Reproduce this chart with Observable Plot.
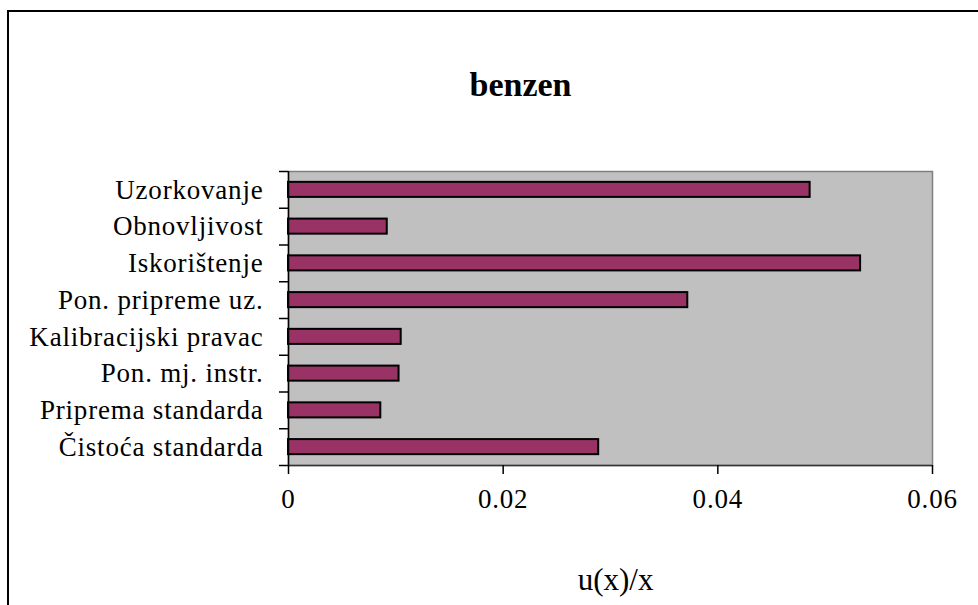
<!DOCTYPE html>
<html>
<head>
<meta charset="utf-8">
<script src="https://cdn.jsdelivr.net/npm/d3@7"></script>
<script src="https://cdn.jsdelivr.net/npm/@observablehq/plot@0.6"></script>
<style>
  html, body { margin: 0; padding: 0; background: #fff; overflow: hidden; }
  #wrap { position: relative; width: 978px; height: 605px; }
  #border { position: absolute; left: 7px; top: 10px; width: 1200px; height: 1000px;
            border-left: 2px solid #000; border-top: 2px solid #000; pointer-events: none; }
  svg, svg text { font-family: 'Liberation Serif', 'Times New Roman', serif !important; }
  svg g.ylab text, svg g.xlab text { letter-spacing: 0.8px; }
</style>
</head>
<body>
<div id="wrap"><div id="border"></div></div>
<script>
const categories = ["Uzorkovanje", "Obnovljivost", "Iskorištenje", "Pon. pripreme uz.",
  "Kalibracijski pravac", "Pon. mj. instr.", "Priprema standarda", "Čistoća standarda"];
const values = [0.0486, 0.0092, 0.0533, 0.0372, 0.0105, 0.0103, 0.0086, 0.0289];
const xTicks = [0, 0.02, 0.04, 0.06];
const xTickLabels = ["0", "0.02", "0.04", "0.06"];
const title = "benzen";
const xLabel = "u(x)/x";

const data = categories.map((c, i) => ({ category: c, value: values[i], i }));
const centers = categories.map((c, i) => i + 0.5);
const bounds = d3.range(categories.length + 1);
const serif = "'Liberation Serif', 'Times New Roman', serif";

const chart = Plot.plot({
  width: 978,
  height: 605,
  marginLeft: 288,
  marginRight: 46,
  marginTop: 171,
  marginBottom: 140,
  style: { fontFamily: serif, background: "transparent", color: "#000" },
  x: { domain: [0, 0.06] },
  y: { domain: [0, categories.length], reverse: true },
  marks: [
    Plot.frame({ fill: "#c0c0c0", stroke: "#808080", strokeWidth: 1.5 }),
    Plot.rectX(data, {
      x1: 0, x2: "value",
      y1: d => d.i + 0.295, y2: d => d.i + 0.705,
      fill: "#993366", stroke: "#000", strokeWidth: 2
    }),
    Plot.ruleX([0], { stroke: "#000", strokeWidth: 1.5 }),
    Plot.ruleY([categories.length], { stroke: "#333", strokeWidth: 1.5 }),
    Plot.axisY(bounds, { tickSize: 9, tickFormat: () => "", label: null, strokeWidth: 1.5 }),
    Plot.axisY(centers, {
      tickSize: 0, tickPadding: 25, label: null, fontSize: 27, fontFamily: serif,
      className: "ylab",
      tickFormat: d => categories[Math.floor(d)]
    }),
    Plot.axisX(xTicks, {
      tickSize: 9, tickPadding: 14, label: null, fontSize: 27, strokeWidth: 1.5,
      fontFamily: serif, className: "xlab",
      tickFormat: d => xTickLabels[xTicks.indexOf(d)]
    }),
    Plot.text([title], {
      frameAnchor: "top", dx: -90, dy: -86, lineAnchor: "middle",
      fontSize: 34, fontWeight: "bold", fill: "#000", fontFamily: serif
    }),
    Plot.text([xLabel], {
      frameAnchor: "bottom", dx: 5, dy: 115, lineAnchor: "middle",
      fontSize: 31, fill: "#000", fontFamily: serif
    })
  ]
});
document.getElementById("wrap").prepend(chart);
chart.style.position = "absolute";
chart.style.left = "0";
chart.style.top = "0";
</script>
</body>
</html>
